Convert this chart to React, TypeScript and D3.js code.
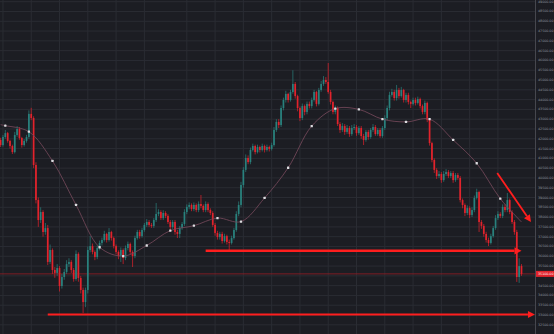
import React from 'react';
import * as d3 from 'd3';

const W = 554;
const H = 334;

const firstOpen = 41940;
const closes = [
  41680, 42090, 42290, 41890, 41630, 41320, 42190, 42500, 42040, 41680,
  41890, 42090, 43270, 43060, 40660, 38870, 37850, 38260, 37240, 37440,
  35710, 36320, 35300, 35150, 35400, 34480, 34940, 35200, 35600, 35710,
  35300, 34840, 36120, 34890, 34280, 33660, 34280, 36320, 36520, 36220,
  35960, 36420, 36680, 36830, 37140, 36830, 37240, 36930, 36520, 36220,
  36010, 36320, 35910, 36420, 36630, 36220, 36010, 36930, 37240, 37030,
  37340, 37600, 37750, 37600, 37550, 37850, 38160, 38260, 37950, 38210,
  38060, 37750, 37490, 37750, 37240, 37140, 37440, 37650, 38260, 38520,
  38620, 38410, 38620, 38360, 38670, 38570, 38360, 38670, 38360, 38210,
  37600, 37190, 36980, 37140, 36780, 37030, 36730, 36680, 36930, 37340,
  38160, 38620, 39640, 40410, 41020, 40810, 41430, 41630, 41320, 41580,
  41430, 41630, 41430, 41580, 41480, 41680, 42450, 42860, 42700, 43570,
  43980, 44290, 43980, 44390, 44800, 44180, 43570, 43060, 43670, 43370,
  43780, 43670, 43980, 44390, 43780, 44490, 44800, 45000, 44900, 44390,
  43880, 43370, 43570, 42750, 42450, 42650, 42350, 42550, 42240, 42550,
  42600, 42290, 42550, 42140, 41940, 42350, 42090, 42450, 42600, 42240,
  42450, 42140, 42550, 43060, 43570, 44240, 44390, 44080, 44490, 44180,
  44490, 43980, 44240, 43880, 43780, 43980, 43830, 44030, 43670, 43370,
  43830, 42960, 41780, 40920, 40410, 40100, 40200, 39890, 40200, 40300,
  40100, 40250, 39890, 40150, 40000, 38870, 38620, 38210, 38460, 38110,
  38360, 38980, 39280, 37750, 37550, 37140, 36830, 36680, 37030, 37440,
  37950, 38160, 38060, 38520, 38360, 38870, 38260, 37750, 37240, 34940,
  35500, 35100,
];
const highs = [
  42050, 42190, 42450, 42350, 41950, 41700, 42350, 42650, 42600, 42100,
  41990, 42200, 43450, 43580, 43150, 40800, 39000, 38500, 38350, 37700,
  37600, 36600, 36400, 35450, 35600, 35500, 35100, 35350, 35800, 35900,
  35800, 35400, 36300, 36200, 35000, 34400, 34400, 36500, 37030, 36650,
  36300, 36550, 36800, 36950, 37300, 37200, 37440, 37300, 37000, 36600,
  36300, 36450, 36400, 36550, 36750, 36700, 36300, 37050, 37350, 37350,
  37450, 37700, 37900, 37850, 37700, 37950, 38720, 38400, 38350, 38350,
  38300, 38150, 37850, 37850, 37850, 37350, 37550, 37750, 38400, 38650,
  38750, 38700, 38750, 38700, 38800, 39130, 38650, 38800, 38750, 38450,
  38300, 37700, 37300, 37250, 37250, 37150, 37100, 36850, 37050, 37450,
  38300, 38800, 39800, 40550, 41200, 41150, 41550, 41750, 41700, 41700,
  41650, 41750, 41700, 41700, 41650, 41800, 42600, 43000, 43000, 43700,
  44100, 44450, 44350, 44500, 45500, 44900, 44250, 43650, 43800, 43750,
  43900, 43900, 44100, 44500, 44450, 44600, 44950, 45200, 45150, 45870,
  44500, 43950, 43700, 43650, 42850, 42800, 42750, 42700, 42650, 42700,
  42750, 42700, 42650, 42650, 42250, 42450, 42450, 42550, 42750, 42700,
  42550, 42550, 42650, 43200, 43700, 44400, 44550, 44500, 44750, 44600,
  44650, 44550, 44350, 44350, 43950, 44100, 44100, 44150, 44100, 43750,
  43950, 43900, 43050, 41850, 41000, 40500, 40350, 40300, 40350, 40450,
  40400, 40350, 40350, 40250, 40250, 40100, 38950, 38700, 38600, 38550,
  38500, 39100, 39450, 39350, 37850, 37650, 37250, 36950, 37150, 37550,
  38100, 38300, 38250, 38650, 38650, 39230, 38950, 38350, 37850, 37350,
  35900, 35600,
];
const lows = [
  41580, 41600, 42000, 41800, 41500, 41220, 41250, 42100, 41950, 41550,
  41600, 41800, 42000, 42950, 40500, 38700, 37500, 37700, 37000, 37100,
  35550, 35600, 35100, 34900, 35000, 34200, 34350, 34800, 35100, 35450,
  35150, 34700, 34750, 34700, 34100, 33100, 33400, 34100, 36200, 36100,
  35800, 35850, 36300, 36550, 36750, 36700, 36750, 36800, 36400, 36100,
  35850, 35710, 35600, 35800, 36300, 36100, 35450, 35900, 36850, 36900,
  36950, 37250, 37500, 37500, 37450, 37450, 37750, 38050, 37850, 37850,
  37950, 37650, 37350, 37400, 37100, 36930, 36930, 37350, 37550, 38150,
  38400, 38300, 38300, 38250, 38250, 38450, 38250, 38250, 38250, 38100,
  37500, 37050, 36850, 36850, 36650, 36700, 36600, 36320, 36600, 36850,
  37250, 38050, 38500, 39500, 40300, 40700, 40700, 41350, 41200, 41250,
  41300, 41350, 41300, 41350, 41350, 41400, 41600, 42350, 42550, 42600,
  43450, 43850, 43850, 43900, 44300, 44050, 43400, 42900, 42950, 43200,
  43250, 43550, 43550, 43900, 43650, 43700, 44400, 44700, 44800, 44300,
  43750, 43250, 43250, 42650, 42300, 42350, 42200, 42250, 42100, 42150,
  42450, 42150, 42200, 42000, 41680, 41850, 41950, 42000, 42350, 42150,
  42150, 42050, 42050, 42450, 42950, 43450, 44150, 43950, 43950, 44050,
  44100, 43850, 43850, 43750, 43570, 43700, 43700, 43750, 43550, 43250,
  43250, 42850, 41650, 40800, 40250, 39950, 40000, 39750, 39800, 40100,
  40000, 40000, 39750, 39800, 39900, 38750, 38450, 38050, 38100, 37950,
  38000, 38250, 38900, 37240, 37400, 37000, 36700, 36520, 36600, 36950,
  37350, 37850, 37950, 37950, 38250, 38250, 38150, 37650, 37100, 34690,
  34640, 35000,
];

// moving average values read at the marked points (bar index -> value)
const maIndex = [0, 2, 12, 22, 32, 42, 52, 62, 72, 82, 92, 102, 112, 122, 132, 142, 152, 162, 172, 182, 192, 202, 212, 221];
const maValues = [42720, 42670, 42360, 40870, 38620, 36460, 36010, 36550, 37310, 37560, 37950, 37770, 38980, 40520, 42650, 43540, 43500, 43000, 42860, 43000, 41940, 40750, 38940, 37750];

const priceTicks = d3.range(32500, 49001, 500);
const timeGridIndex = [1, 13, 25, 37, 49, 61, 79, 91, 103, 115, 127, 139, 151, 163, 175, 187, 199, 211];

// annotation arrows: [bar index, price] -> [bar index, price]
const arrowFrom = [[87, 36280], [20, 33025], [210.7, 40250]];
const arrowTo = [[221, 36280], [226.7, 33025], [225, 37750]];

export default function App() {
  const x = d3.scaleLinear().domain([0, 221]).range([0.6, 521.5]);
  const y = d3.scaleLinear().domain([32500, 49000]).range([324.8, 1.7]);
  const plotRight = 535.5;

  const bg = '#1c1d23';
  const gridColor = '#2a2c33';
  const up = '#29817d';
  const down = '#e2232c';
  const arrowColor = '#ff1e1e';
  const arrowWidths = [2.6, 2.2, 1.8];

  const candles = closes.map((c, i) => {
    const o = i === 0 ? firstOpen : closes[i - 1];
    return { i, o, c, h: highs[i], l: lows[i] };
  });

  const maPts = maIndex.map((idx, k) => [x(idx), y(maValues[k])] as [number, number]);
  const maPath = d3.line().curve(d3.curveCatmullRom.alpha(0.5))(maPts) || '';

  const last = closes[closes.length - 1];
  const lastY = y(last);

  const arrows = arrowFrom.map((f, k) => {
    const t = arrowTo[k];
    const x1 = x(f[0]), y1 = y(f[1]), x2 = x(t[0]), y2 = y(t[1]);
    const dx = x2 - x1, dy = y2 - y1;
    const len = Math.hypot(dx, dy);
    const ux = dx / len, uy = dy / len;
    const hl = 7, hw = 3.6;
    const bx = x2 - ux * hl, by = y2 - uy * hl;
    const px = -uy, py = ux;
    const head = `M${x2},${y2}L${bx + px * hw},${by + py * hw}L${bx - px * hw},${by - py * hw}Z`;
    return { x1, y1, bx, by, head, w: arrowWidths[k] };
  });

  return (
    <svg width={W} height={H} style={{ position: 'fixed', left: 0, top: 0, display: 'block' }}>
      <rect x={0} y={0} width={W} height={H} fill={bg} />
      <g>
        {priceTicks.map((p) => (
          <line key={'h' + p} x1={0} x2={plotRight} y1={y(p)} y2={y(p)} stroke={gridColor} strokeWidth={1} />
        ))}
        {timeGridIndex.map((idx) => (
          <line key={'v' + idx} x1={x(idx)} x2={x(idx)} y1={0} y2={H} stroke={gridColor} strokeWidth={1} />
        ))}
      </g>
      <line x1={0} x2={plotRight} y1={lastY} y2={lastY} stroke="#8a1e25" strokeWidth={0.9} />
      <g>
        {candles.map((d) => {
          const col = d.c >= d.o ? up : down;
          const top = y(Math.max(d.o, d.c));
          const bot = y(Math.min(d.o, d.c));
          return (
            <g key={d.i}>
              <line x1={x(d.i)} x2={x(d.i)} y1={y(d.h)} y2={y(d.l)} stroke={col} strokeWidth={0.7} />
              <rect x={x(d.i) - 0.85} width={1.7} y={top} height={Math.max(0.8, bot - top)} fill={col} />
            </g>
          );
        })}
      </g>
      <path d={maPath} fill="none" stroke="#74485a" strokeWidth={0.85} />
      {maPts.slice(1, -1).map((p, k) => (
        <rect key={'d' + k} x={p[0] - 1.15} y={p[1] - 1.15} width={2.3} height={2.3} rx={0.5} fill="#dcdce0" />
      ))}
      <line x1={plotRight} x2={plotRight} y1={0} y2={H} stroke="#46474e" strokeWidth={1} />
      <g fontFamily="DejaVu Sans" fontSize={3.25} fill="#989aa0">
        {priceTicks
          .filter((p) => Math.abs(y(p) - lastY) > 4.5)
          .map((p) => (
            <text key={'t' + p} x={538} y={y(p)} dominantBaseline="central">
              {p.toFixed(2)}
            </text>
          ))}
      </g>
      <rect x={536} y={lastY - 3} width={18} height={6} fill={down} />
      <text x={538} y={lastY} dominantBaseline="central" fontFamily="DejaVu Sans" fontSize={3.25} fill="#ffffff">
        {last.toFixed(2)}
      </text>
      {arrows.map((a, k) => (
        <g key={'a' + k}>
          <line x1={a.x1} y1={a.y1} x2={a.bx} y2={a.by} stroke={arrowColor} strokeWidth={a.w} />
          <path d={a.head} fill={arrowColor} />
        </g>
      ))}
    </svg>
  );
}
